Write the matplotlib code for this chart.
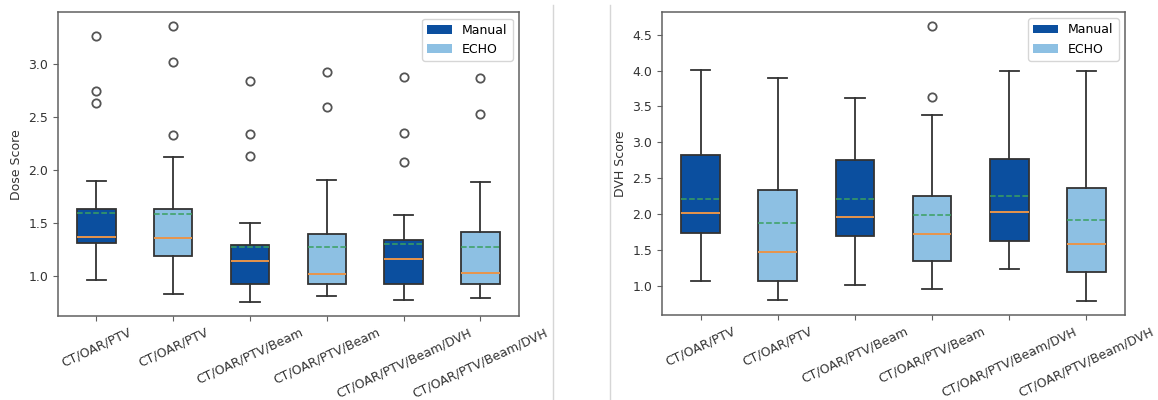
import matplotlib
matplotlib.use("Agg")
import matplotlib.pyplot as plt
from matplotlib.patches import Patch
from matplotlib.lines import Line2D

labels = ["CT/OAR/PTV", "CT/OAR/PTV", "CT/OAR/PTV/Beam", "CT/OAR/PTV/Beam",
          "CT/OAR/PTV/Beam/DVH", "CT/OAR/PTV/Beam/DVH"]
groups = ["Manual", "ECHO", "Manual", "ECHO", "Manual", "ECHO"]

# dose score
dose_whislo = [0.956, 0.83, 0.748, 0.811, 0.767, 0.792]
dose_q1 = [1.31, 1.183, 0.918, 0.918, 0.918, 0.918]
dose_med = [1.365, 1.353, 1.135, 1.019, 1.161, 1.025]
dose_q3 = [1.63, 1.63, 1.293, 1.397, 1.337, 1.413]
dose_whishi = [1.898, 2.118, 1.498, 1.904, 1.573, 1.888]
dose_mean = [1.59, 1.583, 1.268, 1.274, 1.30, 1.274]
dose_fliers = [[3.27, 2.75, 2.63], [3.36, 3.025, 2.33], [2.84, 2.34, 2.128],
               [2.928, 2.597], [2.877, 2.345, 2.077], [2.868, 2.528]]

# DVH score
dvh_whislo = [1.074, 0.806, 1.019, 0.963, 1.231, 0.788]
dvh_q1 = [1.735, 1.074, 1.698, 1.352, 1.624, 1.199]
dvh_med = [2.017, 1.467, 1.962, 1.726, 2.036, 1.578]
dvh_q3 = [2.817, 2.341, 2.752, 2.253, 2.762, 2.369]
dvh_whishi = [4.01, 3.89, 3.617, 3.377, 4.0, 4.0]
dvh_mean = [2.207, 1.879, 2.207, 1.994, 2.253, 1.92]
dvh_fliers = [[], [], [], [4.62, 3.626], [], []]

colors = {"Manual": "#0b4f9f", "ECHO": "#8dc0e3"}
line_col = "#333333"

plt.rcParams["font.size"] = 9
plt.rcParams["axes.edgecolor"] = "#606060"
plt.rcParams["axes.linewidth"] = 1.1
plt.rcParams["xtick.color"] = "#606060"
plt.rcParams["ytick.color"] = "#606060"
plt.rcParams["xtick.labelcolor"] = "#333333"
plt.rcParams["ytick.labelcolor"] = "#333333"


def make_stats(lo, q1, med, q3, hi, mean, fl):
    return [dict(whislo=lo[i], q1=q1[i], med=med[i], q3=q3[i], whishi=hi[i],
                 mean=mean[i], fliers=fl[i]) for i in range(len(lo))]


def draw(ax, stats, ylabel):
    res = ax.bxp(stats, positions=range(1, len(stats) + 1), widths=0.5,
                 patch_artist=True, showmeans=True, meanline=True,
                 boxprops=dict(edgecolor=line_col, linewidth=1.3),
                 whiskerprops=dict(color=line_col, linewidth=1.3),
                 capprops=dict(color=line_col, linewidth=1.3),
                 medianprops=dict(color="#e8944a", linewidth=1.4),
                 meanprops=dict(color="#3aa060", linestyle="--", linewidth=1.1),
                 flierprops=dict(marker="o", markerfacecolor="none",
                                 markeredgecolor="#555555", markersize=6,
                                 markeredgewidth=1.3))
    for box, g in zip(res["boxes"], groups):
        box.set_facecolor(colors[g])
    ax.set_xticks(range(1, len(labels) + 1))
    ax.set_xticklabels(labels, rotation=25)
    ax.set_ylabel(ylabel, color="#333333")
    handles = [Patch(facecolor=colors["Manual"], label="Manual"),
               Patch(facecolor=colors["ECHO"], label="ECHO")]
    ax.legend(handles=handles, loc="upper right", fontsize=9)


fig = plt.figure(figsize=(11.58, 4.0), dpi=100)
ax1 = fig.add_axes([0.0501, 0.21, 0.398, 0.759])
ax2 = fig.add_axes([0.5717, 0.2125, 0.3998, 0.757])

draw(ax1, make_stats(dose_whislo, dose_q1, dose_med, dose_q3, dose_whishi,
                     dose_mean, dose_fliers), "Dose Score")
draw(ax2, make_stats(dvh_whislo, dvh_q1, dvh_med, dvh_q3, dvh_whishi,
                     dvh_mean, dvh_fliers), "DVH Score")

# faint divider lines between the panels
for xf in (553 / 1158, 610 / 1158):
    fig.add_artist(Line2D([xf, xf], [0, 0.987], transform=fig.transFigure,
                          color="#d6d6d6", linewidth=1))

fig.savefig("out.png", dpi=100)
